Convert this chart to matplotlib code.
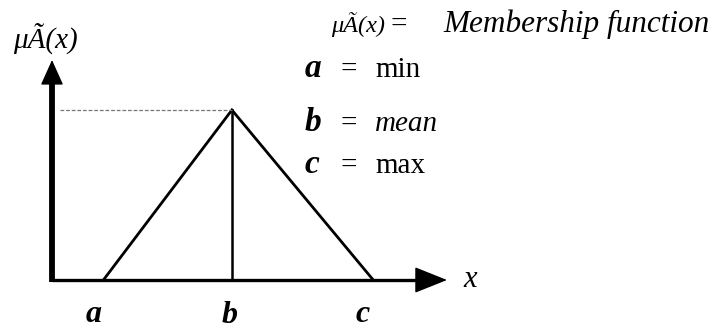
import numpy as np
import matplotlib
matplotlib.use('Agg')
import matplotlib.pyplot as plt

plt.rcParams['font.family'] = ['Liberation Serif', 'DejaVu Serif']

# triangular fuzzy number
names = ['a', 'b', 'c']
values = [1.0, 3.5, 6.25]      # min, mean, max
membership = [0.0, 1.0, 0.0]
meanings = ['min', 'mean', 'max']
meaning_style = ['normal', 'italic', 'normal']

W, H = 717, 331
x0_px, y0_px = 52, 280          # origin in pixels
sx, sy = 51.4, 170.0            # pixels per data unit


def fx(px):
    return px / W


def fy(py):
    return 1 - py / H


fig = plt.figure(figsize=(W / 100, H / 100), dpi=100)
ax = fig.add_axes([0, 0, 1, 1])
ax.set_xlim(-x0_px / sx, (W - x0_px) / sx)
ax.set_ylim((y0_px - H) / sy, y0_px / sy)
ax.axis('off')

x_end = (447 - x0_px) / sx
y_end = (y0_px - 60) / sy

# axes with arrows
ax.plot([0, x_end - 0.4], [0, 0], color='black', lw=2.4, solid_capstyle='butt')
ax.plot([0, 0], [-0.01, y_end - 0.1], color='black', lw=4.2, solid_capstyle='butt')
ax.annotate('', xy=(x_end, 0), xytext=(x_end - 0.6, 0),
            arrowprops=dict(arrowstyle='-|>,head_length=1.05,head_width=0.42',
                            color='black', lw=1, shrinkA=0, shrinkB=0, mutation_scale=20))
ax.annotate('', xy=(0, y_end), xytext=(0, y_end - 0.2),
            arrowprops=dict(arrowstyle='-|>,head_length=0.8,head_width=0.36',
                            color='black', lw=1, shrinkA=0, shrinkB=0, mutation_scale=20))

# triangle
ax.plot(values, membership, color='black', lw=2.0, solid_joinstyle='miter')
b = values[1]
ax.plot([b, b], [0, membership[1]], color='black', lw=1.8)
ax.plot([8 / sx, b], [membership[1], membership[1]], color='#777777', lw=0.9,
        linestyle=(0, (3, 1.5)))

# labels under the axis
bottom_px = [(94, 322), (230, 323), (363, 322)]
for n, (px, py) in zip(names, bottom_px):
    fig.text(fx(px), fy(py), n, fontsize=23, fontweight='bold', fontstyle='italic',
             ha='center', va='baseline')

fig.text(fx(463), fy(287), 'x', fontsize=22, fontstyle='italic', va='baseline')
fig.text(fx(13), fy(48), 'μÃ(x)', fontsize=21, fontstyle='italic', va='baseline')

# legend text block
fig.text(fx(331), fy(32), 'μÃ(x)', fontsize=17.5, fontstyle='italic', va='baseline')
fig.text(fx(390), fy(32), '=', fontsize=21, va='baseline')
fig.text(fx(443), fy(32), 'Membership function', fontsize=22.5, fontstyle='italic',
         va='baseline')

rows_px = [77, 131, 173]
for n, m, st, py in zip(names, meanings, meaning_style, rows_px):
    fig.text(fx(305), fy(py), n, fontsize=24, fontweight='bold', fontstyle='italic',
             va='baseline')
    fig.text(fx(340), fy(py), '=', fontsize=21, va='baseline')
    fig.text(fx(375), fy(py), m, fontsize=21, fontstyle=st, va='baseline')

plt.savefig('out.png', dpi=100)
